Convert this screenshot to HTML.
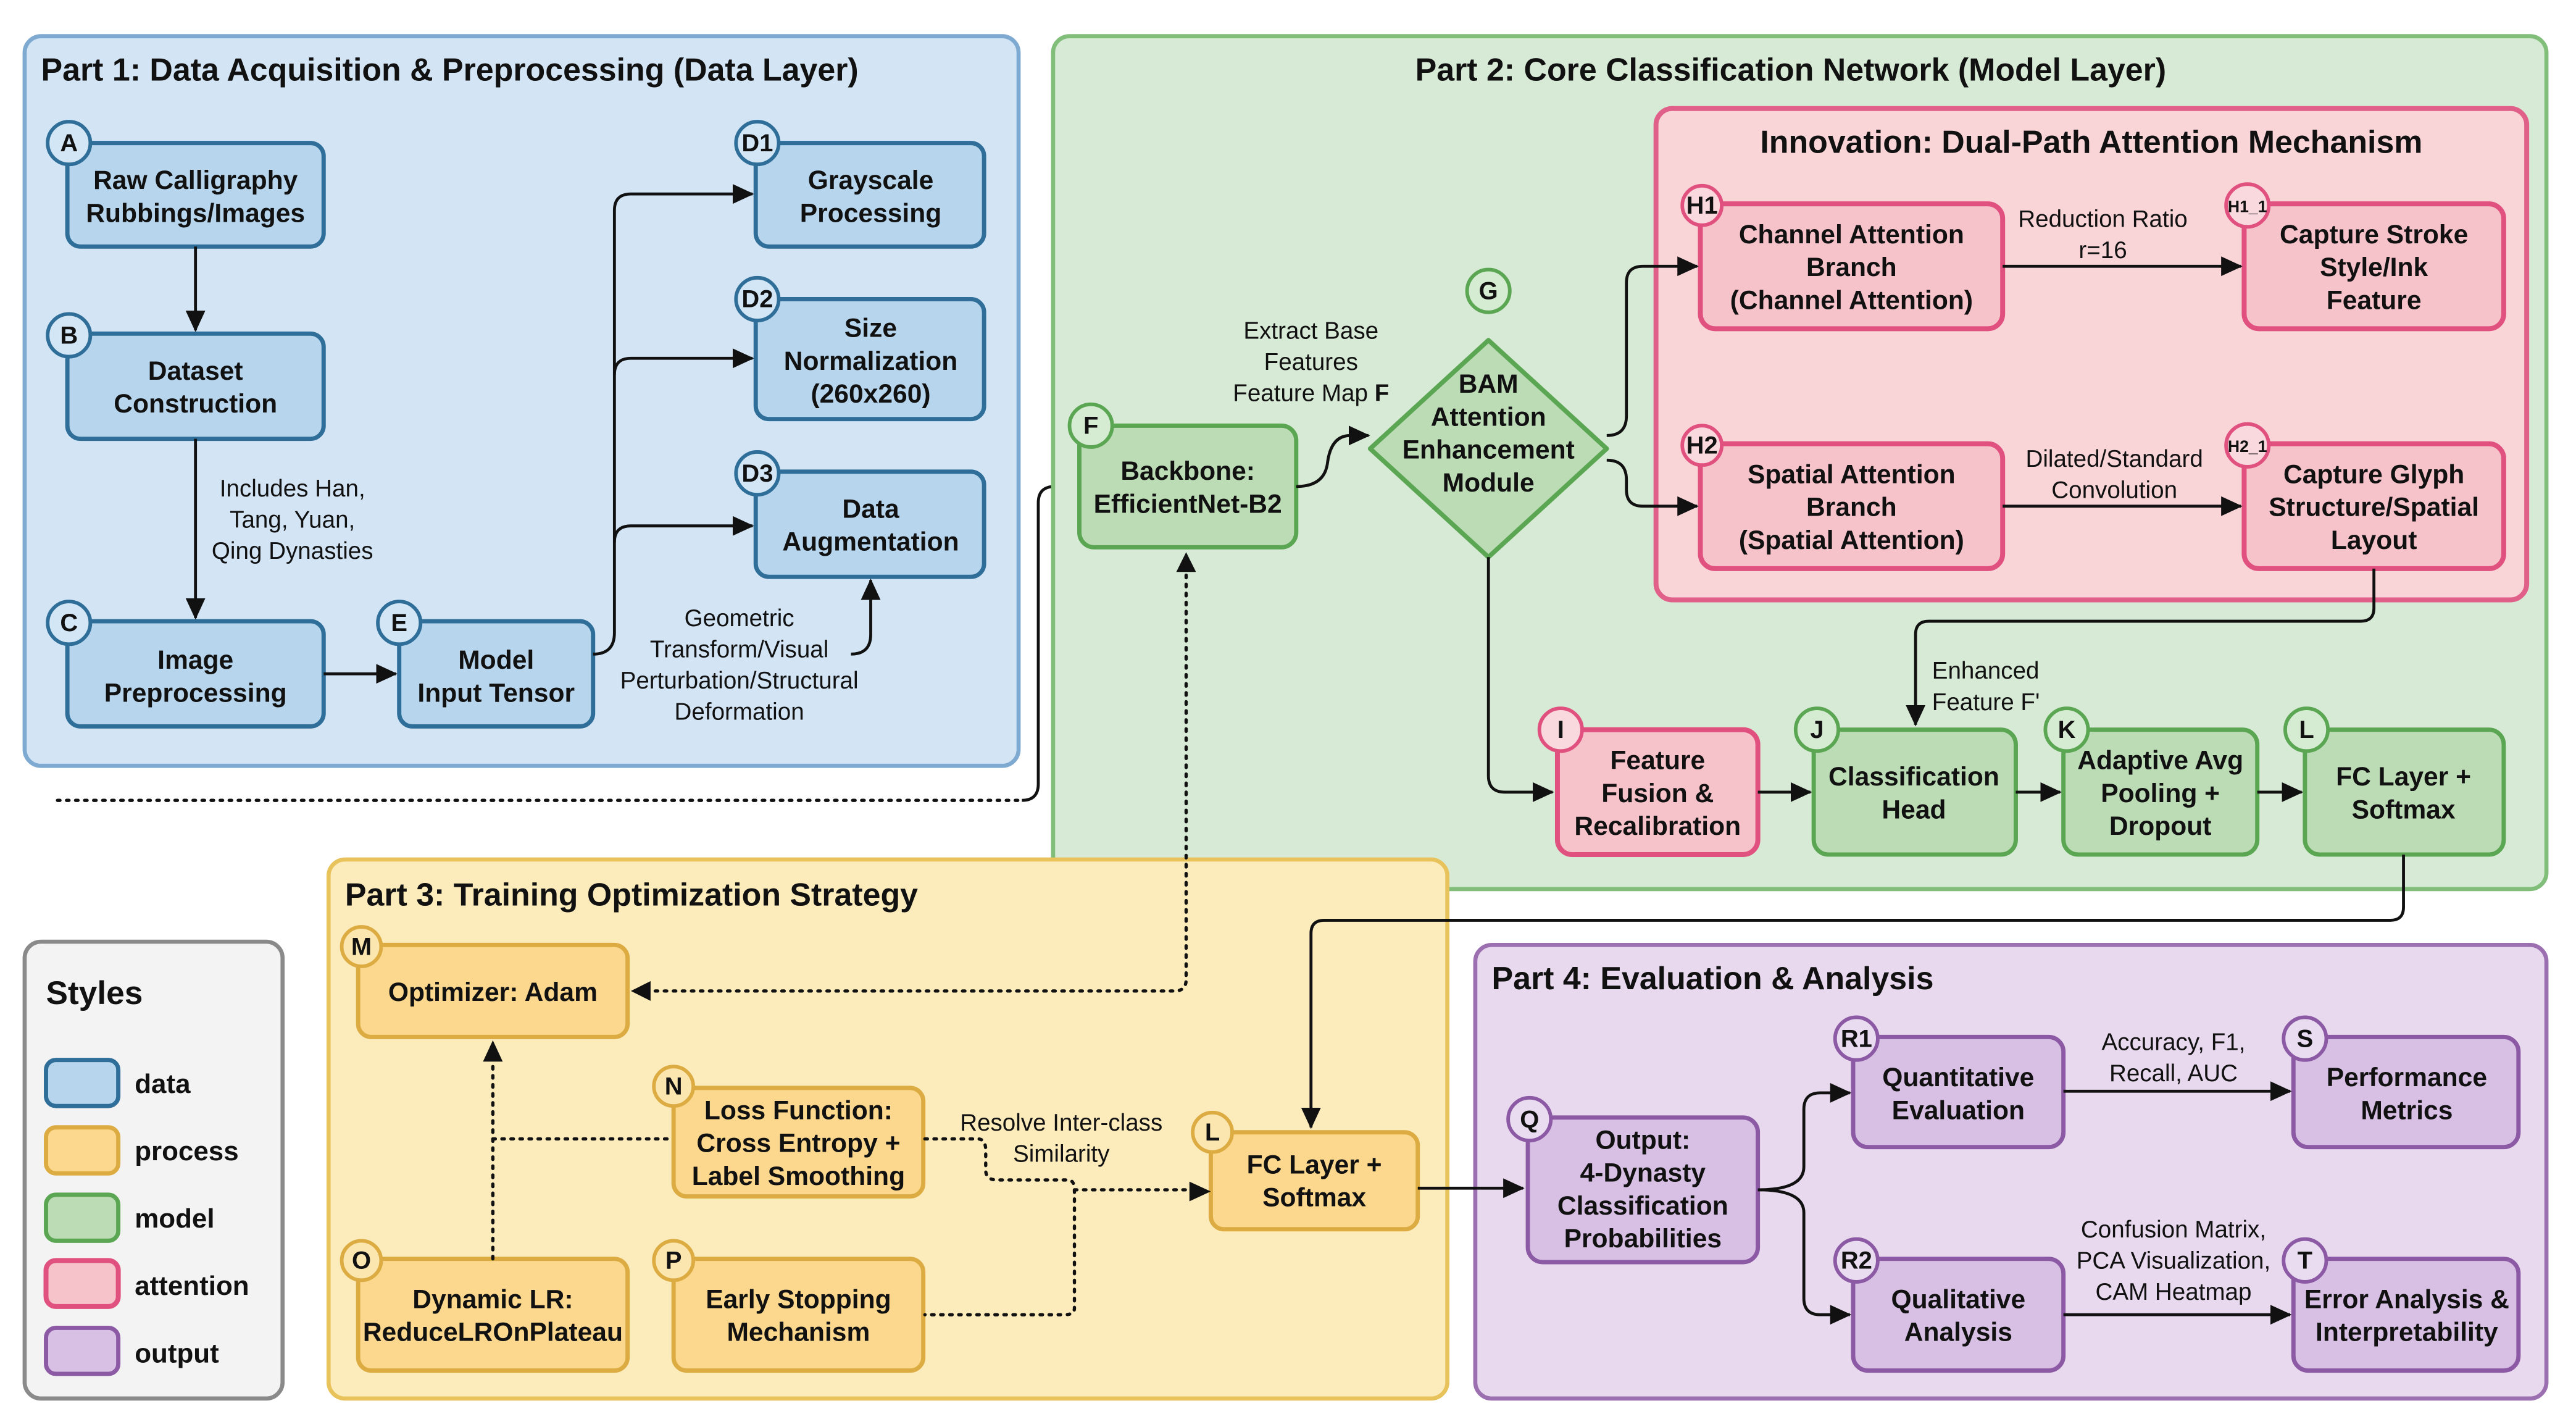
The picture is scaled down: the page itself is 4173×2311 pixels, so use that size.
<!DOCTYPE html>
<html><head><meta charset="utf-8"><style>
html,body{margin:0;padding:0;background:#fff;}
svg{display:block;}
text{font-family:"Liberation Sans",Arial,sans-serif;fill:#111;}
.t{font-weight:bold;font-size:19.5px;}
.n{font-weight:bold;font-size:16px;text-anchor:middle;}
.l{font-size:14.5px;text-anchor:middle;}
.b{font-weight:bold;font-size:15px;text-anchor:middle;}
.bs{font-weight:bold;font-size:10px;text-anchor:middle;}
.ln{fill:none;stroke:#111;stroke-width:1.8;}
.dt{fill:none;stroke:#111;stroke-width:2;stroke-dasharray:1.5 4;stroke-linecap:round;}
.blue{fill:#b7d6ee;stroke:#2e6e98;stroke-width:2.6;}
.yel{fill:#fbd88d;stroke:#dcac42;stroke-width:2.6;}
.grn{fill:#bcdcb5;stroke:#5ba653;stroke-width:2.6;}
.pnk{fill:#f7c3cb;stroke:#e0517f;stroke-width:3;}
.pur{fill:#d8bfe4;stroke:#8c5aa5;stroke-width:2.6;}
.cb{fill:#d2e6f6;stroke:#2e6e98;stroke-width:2.2;}
.cy{fill:#fce6b0;stroke:#dcac42;stroke-width:2.2;}
.cg{fill:#d6ecd2;stroke:#5ba653;stroke-width:2.2;}
.cp{fill:#fad9de;stroke:#e0517f;stroke-width:2.2;}
.cu{fill:#e9dbf0;stroke:#8c5aa5;stroke-width:2.2;}
</style></head><body>
<svg width="4173" height="2311" viewBox="0 0 1568 868.3" xmlns="http://www.w3.org/2000/svg">
<defs>
<marker id="a" markerUnits="userSpaceOnUse" markerWidth="14" markerHeight="14" refX="12" refY="6" orient="auto"><path d="M0,0 L13,6 L0,12 Z" fill="#111"/></marker>
</defs>
<rect width="1568" height="868.3" fill="#fff"/>

<!-- Part 1 -->
<rect x="15" y="22" width="605" height="444" rx="10" fill="#d3e5f5" stroke="#7ea9d0" stroke-width="2.5"/>
<text class="t" x="25" y="49">Part 1: Data Acquisition &amp; Preprocessing (Data Layer)</text>
<rect class="blue" x="41" y="87" width="156" height="63" rx="8"/>
<text class="n" x="119" y="115">Raw Calligraphy</text><text class="n" x="119" y="135">Rubbings/Images</text>
<rect class="blue" x="41" y="203" width="156" height="64" rx="8"/>
<text class="n" x="119" y="231">Dataset</text><text class="n" x="119" y="251">Construction</text>
<rect class="blue" x="41" y="378" width="156" height="64" rx="8"/>
<text class="n" x="119" y="407">Image</text><text class="n" x="119" y="427">Preprocessing</text>
<rect class="blue" x="243" y="378" width="118" height="64" rx="8"/>
<text class="n" x="302" y="407">Model</text><text class="n" x="302" y="427">Input Tensor</text>
<rect class="blue" x="460" y="87" width="139" height="63" rx="8"/>
<text class="n" x="530" y="115">Grayscale</text><text class="n" x="530" y="135">Processing</text>
<rect class="blue" x="460" y="182" width="139" height="73" rx="8"/>
<text class="n" x="530" y="205">Size</text><text class="n" x="530" y="225">Normalization</text><text class="n" x="530" y="245">(260x260)</text>
<rect class="blue" x="460" y="287" width="139" height="64" rx="8"/>
<text class="n" x="530" y="315">Data</text><text class="n" x="530" y="335">Augmentation</text>
<circle class="cb" cx="42" cy="87" r="13"/><text class="b" x="42" y="92">A</text>
<circle class="cb" cx="42" cy="204" r="13"/><text class="b" x="42" y="209">B</text>
<circle class="cb" cx="42" cy="379" r="13"/><text class="b" x="42" y="384">C</text>
<circle class="cb" cx="243" cy="379" r="13"/><text class="b" x="243" y="384">E</text>
<circle class="cb" cx="461" cy="87" r="13"/><text class="b" x="461" y="92">D1</text>
<circle class="cb" cx="461" cy="182" r="13"/><text class="b" x="461" y="187">D2</text>
<circle class="cb" cx="461" cy="288" r="13"/><text class="b" x="461" y="293">D3</text>
<path class="ln" d="M119,150 V201" marker-end="url(#a)"/>
<path class="ln" d="M119,267 V376" marker-end="url(#a)"/>
<text class="l" x="178" y="302">Includes Han,</text><text class="l" x="178" y="321">Tang, Yuan,</text><text class="l" x="178" y="340">Qing Dynasties</text>
<path class="ln" d="M197,410 H241" marker-end="url(#a)"/>
<path class="ln" d="M361,398 Q374,398 374,385 V128 Q374,118 384,118 H458" marker-end="url(#a)"/>
<path class="ln" d="M374,228 Q374,218 384,218 H458" marker-end="url(#a)"/>
<path class="ln" d="M374,330 Q374,320 384,320 H458" marker-end="url(#a)"/>
<text class="l" x="450" y="381">Geometric</text><text class="l" x="450" y="400">Transform/Visual</text><text class="l" x="450" y="419">Perturbation/Structural</text><text class="l" x="450" y="438">Deformation</text>
<path class="ln" d="M518,398 Q530,398 530,386 V353" marker-end="url(#a)"/>
<path class="dt" d="M35,487 H622"/>
<path class="ln" d="M622,487 Q632,487 632,477 V306 Q632,296 642,296 H655" marker-end="url(#a)"/>

<!-- Part 2 -->
<rect x="641" y="22" width="909" height="519" rx="10" fill="#d7ead5" stroke="#80be7a" stroke-width="2.5"/>
<text class="t" x="1090" y="49" text-anchor="middle">Part 2: Core Classification Network (Model Layer)</text>
<rect x="1008" y="66" width="530" height="299" rx="10" fill="#f9d5d8" stroke="#e0608a" stroke-width="3"/>
<text class="t" x="1273" y="93" text-anchor="middle">Innovation: Dual-Path Attention Mechanism</text>
<rect class="pnk" x="1035" y="124" width="184" height="76" rx="9"/>
<text class="n" x="1127" y="148">Channel Attention</text><text class="n" x="1127" y="168">Branch</text><text class="n" x="1127" y="188">(Channel Attention)</text>
<rect class="pnk" x="1366" y="124" width="158" height="76" rx="9"/>
<text class="n" x="1445" y="148">Capture Stroke</text><text class="n" x="1445" y="168">Style/Ink</text><text class="n" x="1445" y="188">Feature</text>
<rect class="pnk" x="1035" y="270" width="184" height="76" rx="9"/>
<text class="n" x="1127" y="294">Spatial Attention</text><text class="n" x="1127" y="314">Branch</text><text class="n" x="1127" y="334">(Spatial Attention)</text>
<rect class="pnk" x="1366" y="270" width="158" height="76" rx="9"/>
<text class="n" x="1445" y="294">Capture Glyph</text><text class="n" x="1445" y="314">Structure/Spatial</text><text class="n" x="1445" y="334">Layout</text>
<circle class="cp" cx="1036" cy="125" r="12"/><text class="b" x="1036" y="130">H1</text>
<circle class="cp" cx="1368" cy="125" r="13"/><text class="bs" x="1368" y="129">H1_1</text>
<circle class="cp" cx="1036" cy="271" r="12"/><text class="b" x="1036" y="276">H2</text>
<circle class="cp" cx="1368" cy="271" r="13"/><text class="bs" x="1368" y="275">H2_1</text>
<text class="l" x="1280" y="138">Reduction Ratio</text><text class="l" x="1280" y="157">r=16</text>
<path class="ln" d="M1219,162 H1364" marker-end="url(#a)"/>
<text class="l" x="1287" y="284">Dilated/Standard</text><text class="l" x="1287" y="303">Convolution</text>
<path class="ln" d="M1219,308 H1364" marker-end="url(#a)"/>

<rect class="grn" x="657" y="259" width="132" height="74" rx="9"/>
<text class="n" x="723" y="292">Backbone:</text><text class="n" x="723" y="312">EfficientNet-B2</text>
<circle class="cg" cx="664" cy="259" r="13"/><text class="b" x="664" y="264">F</text>
<text class="l" x="798" y="206">Extract Base</text><text class="l" x="798" y="225">Features</text><text class="l" x="798" y="244">Feature Map <tspan font-weight="bold">F</tspan></text>
<path class="ln" d="M789,296 Q806,296 808,282 Q810,265 822,265 H833" marker-end="url(#a)"/>
<polygon points="906,207 978,273 906,339 834,273" fill="#bcdcb5" stroke="#5ba653" stroke-width="2.8" stroke-linejoin="round"/>
<text class="n" x="906" y="239">BAM</text><text class="n" x="906" y="259">Attention</text><text class="n" x="906" y="279">Enhancement</text><text class="n" x="906" y="299">Module</text>
<circle class="cg" cx="906" cy="177" r="13"/><text class="b" x="906" y="182">G</text>
<path class="ln" d="M978,265 Q990,265 990,253 V172 Q990,162 1000,162 H1033" marker-end="url(#a)"/>
<path class="ln" d="M978,280 Q990,280 990,292 V298 Q990,308 1000,308 H1033" marker-end="url(#a)"/>
<path class="ln" d="M906,339 V472 Q906,482 916,482 H945" marker-end="url(#a)"/>
<path class="ln" d="M1445,346 V370 Q1445,378 1437,378 H1174 Q1166,378 1166,386 V441" marker-end="url(#a)"/>
<text x="1176" y="413" style="font-size:14.5px;text-anchor:start">Enhanced</text><text x="1176" y="432" style="font-size:14.5px;text-anchor:start">Feature F'</text>

<rect class="pnk" x="948" y="444" width="122" height="76" rx="9"/>
<text class="n" x="1009" y="468">Feature</text><text class="n" x="1009" y="488">Fusion &amp;</text><text class="n" x="1009" y="508">Recalibration</text>
<circle class="cp" cx="950" cy="444" r="13"/><text class="b" x="950" y="449">I</text>
<rect class="grn" x="1104" y="444" width="123" height="76" rx="9"/>
<text class="n" x="1165" y="478">Classification</text><text class="n" x="1165" y="498">Head</text>
<circle class="cg" cx="1106" cy="444" r="13"/><text class="b" x="1106" y="449">J</text>
<rect class="grn" x="1256" y="444" width="118" height="76" rx="9"/>
<text class="n" x="1315" y="468">Adaptive Avg</text><text class="n" x="1315" y="488">Pooling +</text><text class="n" x="1315" y="508">Dropout</text>
<circle class="cg" cx="1258" cy="444" r="13"/><text class="b" x="1258" y="449">K</text>
<rect class="grn" x="1403" y="444" width="121" height="76" rx="9"/>
<text class="n" x="1463" y="478">FC Layer +</text><text class="n" x="1463" y="498">Softmax</text>
<circle class="cg" cx="1404" cy="444" r="13"/><text class="b" x="1404" y="449">L</text>
<path class="ln" d="M1070,482 H1102" marker-end="url(#a)"/>
<path class="ln" d="M1227,482 H1254" marker-end="url(#a)"/>
<path class="ln" d="M1374,482 H1401" marker-end="url(#a)"/>

<!-- Part 3 -->
<rect x="200" y="523" width="681" height="328" rx="10" fill="#fcebbb" stroke="#e8c35c" stroke-width="2.5"/>
<text class="t" x="210" y="551">Part 3: Training Optimization Strategy</text>
<rect class="yel" x="218" y="575" width="164" height="56" rx="8"/>
<text class="n" x="300" y="609">Optimizer: Adam</text>
<circle class="cy" cx="220" cy="576" r="12"/><text class="b" x="220" y="581">M</text>
<rect class="yel" x="410" y="662" width="152" height="66" rx="8"/>
<text class="n" x="486" y="681">Loss Function:</text><text class="n" x="486" y="701">Cross Entropy +</text><text class="n" x="486" y="721">Label Smoothing</text>
<circle class="cy" cx="410" cy="661" r="12"/><text class="b" x="410" y="666">N</text>
<rect class="yel" x="218" y="766" width="164" height="68" rx="8"/>
<text class="n" x="300" y="796">Dynamic LR:</text><text class="n" x="300" y="816">ReduceLROnPlateau</text>
<circle class="cy" cx="220" cy="767" r="12"/><text class="b" x="220" y="772">O</text>
<rect class="yel" x="410" y="766" width="152" height="68" rx="8"/>
<text class="n" x="486" y="796">Early Stopping</text><text class="n" x="486" y="816">Mechanism</text>
<circle class="cy" cx="410" cy="767" r="12"/><text class="b" x="410" y="772">P</text>
<rect class="yel" x="737" y="689" width="126" height="59" rx="8"/>
<text class="n" x="800" y="714">FC Layer +</text><text class="n" x="800" y="734">Softmax</text>
<circle class="cy" cx="738" cy="689" r="12"/><text class="b" x="738" y="694">L</text>
<path class="dt" d="M722,350 V596 Q722,603 715,603 H390"/>
<path d="M384,603 L396,597 L396,609 Z" fill="#111"/>
<path d="M722,336 L716,348 L728,348 Z" fill="#111"/>
<path class="dt" d="M300,766 V645"/>
<path d="M300,633 L294,646 L306,646 Z" fill="#111"/>
<path class="dt" d="M300,693 H408"/>
<path class="dt" d="M563,693 H595 Q600,693 600,700 V712 Q600,718 607,718 H650 Q654,718 654,724 V796 Q654,800 648,800 H563"/>
<path class="dt" d="M654,724 H725"/>
<path d="M737,725 L724,719 L724,731 Z" fill="#111"/>
<text class="l" x="646" y="688">Resolve Inter-class</text><text class="l" x="646" y="707">Similarity</text>
<path class="ln" d="M1463,520 V552 Q1463,560 1455,560 H806 Q798,560 798,568 V686" marker-end="url(#a)"/>

<!-- Legend -->
<rect x="15" y="573" width="157" height="278" rx="10" fill="#f3f3f3" stroke="#8a8a8a" stroke-width="2.5"/>
<text x="28" y="611" font-weight="bold" font-size="20">Styles</text>
<rect class="blue" x="28" y="645" width="44" height="28" rx="6"/><text x="82" y="665" font-weight="bold" font-size="16.5">data</text>
<rect class="yel" x="28" y="686" width="44" height="28" rx="6"/><text x="82" y="706" font-weight="bold" font-size="16.5">process</text>
<rect class="grn" x="28" y="727" width="44" height="28" rx="6"/><text x="82" y="747" font-weight="bold" font-size="16.5">model</text>
<rect class="pnk" x="28" y="767" width="44" height="28" rx="6"/><text x="82" y="788" font-weight="bold" font-size="16.5">attention</text>
<rect class="pur" x="28" y="808" width="44" height="28" rx="6"/><text x="82" y="829" font-weight="bold" font-size="16.5">output</text>

<!-- Part 4 -->
<rect x="898" y="575" width="652" height="276" rx="10" fill="#e8d9ee" stroke="#9c6fb0" stroke-width="2.5"/>
<text class="t" x="908" y="602">Part 4: Evaluation &amp; Analysis</text>
<rect class="pur" x="930" y="680" width="140" height="88" rx="9"/>
<text class="n" x="1000" y="699">Output:</text><text class="n" x="1000" y="719">4-Dynasty</text><text class="n" x="1000" y="739">Classification</text><text class="n" x="1000" y="759">Probabilities</text>
<circle class="cu" cx="931" cy="681" r="13"/><text class="b" x="931" y="686">Q</text>
<rect class="pur" x="1128" y="631" width="128" height="67" rx="9"/>
<text class="n" x="1192" y="661">Quantitative</text><text class="n" x="1192" y="681">Evaluation</text>
<circle class="cu" cx="1130" cy="632" r="13"/><text class="b" x="1130" y="637">R1</text>
<rect class="pur" x="1396" y="631" width="137" height="67" rx="9"/>
<text class="n" x="1465" y="661">Performance</text><text class="n" x="1465" y="681">Metrics</text>
<circle class="cu" cx="1403" cy="632" r="13"/><text class="b" x="1403" y="637">S</text>
<rect class="pur" x="1128" y="766" width="128" height="68" rx="9"/>
<text class="n" x="1192" y="796">Qualitative</text><text class="n" x="1192" y="816">Analysis</text>
<circle class="cu" cx="1130" cy="767" r="13"/><text class="b" x="1130" y="772">R2</text>
<rect class="pur" x="1396" y="766" width="137" height="68" rx="9"/>
<text class="n" x="1465" y="796">Error Analysis &amp;</text><text class="n" x="1465" y="816">Interpretability</text>
<circle class="cu" cx="1403" cy="767" r="13"/><text class="b" x="1403" y="772">T</text>
<path class="ln" d="M1070,724 Q1098,724 1098,710 V675 Q1098,665 1108,665 H1126" marker-end="url(#a)"/>
<path class="ln" d="M1070,724 Q1098,724 1098,738 V790 Q1098,800 1108,800 H1126" marker-end="url(#a)"/>
<path class="ln" d="M1256,664 H1394" marker-end="url(#a)"/>
<text class="l" x="1323" y="639">Accuracy, F1,</text><text class="l" x="1323" y="658">Recall, AUC</text>
<path class="ln" d="M1256,800 H1394" marker-end="url(#a)"/>
<text class="l" x="1323" y="753">Confusion Matrix,</text><text class="l" x="1323" y="772">PCA Visualization,</text><text class="l" x="1323" y="791">CAM Heatmap</text>
<path class="ln" d="M863,723 H927" marker-end="url(#a)"/>
</svg>
</body></html>
